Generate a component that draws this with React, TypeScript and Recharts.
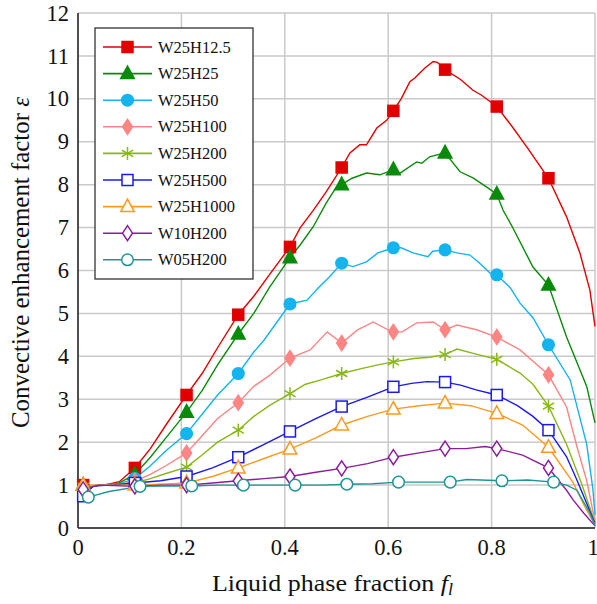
import React from 'react';
import { ComposedChart, Line, XAxis, YAxis, CartesianGrid } from 'recharts';

type Pt = [number, number];

const xTicks = [0, 0.2, 0.4, 0.6, 0.8, 1];
const yTicks = [0, 1, 2, 3, 4, 5, 6, 7, 8, 9, 10, 11, 12];

const seriesNames = ['W25H12.5', 'W25H25', 'W25H50', 'W25H100', 'W25H200', 'W25H500', 'W25H1000', 'W10H200', 'W05H200'];

const markerX = [0.01, 0.11, 0.21, 0.31, 0.41, 0.51, 0.61, 0.71, 0.81, 0.91];
const markerXTeal = [0.02, 0.12, 0.22, 0.32, 0.42, 0.52, 0.62, 0.72, 0.82, 0.92];

const markRed = [1.0, 1.4, 3.1, 4.97, 6.55, 8.4, 9.72, 10.68, 9.82, 8.15];
const markGreen = [1.0, 1.25, 2.7, 4.52, 6.3, 8.0, 8.35, 8.74, 7.78, 5.66];
const markCyan = [0.92, 1.15, 2.2, 3.6, 5.22, 6.17, 6.53, 6.48, 5.9, 4.27];
const markPink = [0.97, 1.1, 1.75, 2.92, 3.96, 4.31, 4.57, 4.62, 4.45, 3.57];
const markYGreen = [0.97, 1.05, 1.42, 2.28, 3.13, 3.6, 3.87, 4.04, 3.93, 2.84];
const markBlue = [0.74, 1.05, 1.2, 1.65, 2.25, 2.83, 3.29, 3.4, 3.1, 2.28];
const markOrange = [1.0, 1.0, 1.05, 1.4, 1.84, 2.4, 2.77, 2.91, 2.67, 1.88];
const markPurple = [0.9, 0.97, 1.0, 1.1, 1.2, 1.39, 1.65, 1.85, 1.85, 1.4];
const markTeal = [0.72, 0.97, 0.98, 1.0, 1.0, 1.02, 1.07, 1.07, 1.1, 1.07];

const curveRed: Pt[] = [[0, 0.95], [0.01, 0.97], [0.05, 1.0], [0.08, 1.08], [0.11, 1.4], [0.14, 1.85], [0.17, 2.4], [0.21, 3.1], [0.24, 3.6], [0.27, 4.2], [0.31, 4.97], [0.34, 5.4], [0.37, 5.9], [0.41, 6.55], [0.43, 7.0], [0.455, 7.4], [0.48, 7.83], [0.51, 8.4], [0.526, 8.74], [0.545, 8.93], [0.558, 8.93], [0.578, 9.32], [0.597, 9.5], [0.61, 9.72], [0.625, 10.0], [0.642, 10.4], [0.652, 10.49], [0.671, 10.72], [0.687, 10.87], [0.695, 10.85], [0.71, 10.68], [0.74, 10.45], [0.764, 10.2], [0.78, 10.09], [0.81, 9.82], [0.84, 9.35], [0.868, 8.88], [0.91, 8.15], [0.945, 7.25], [0.971, 6.4], [0.99, 5.55], [1.0, 4.7]];
const curveGreen: Pt[] = [[0, 0.95], [0.01, 0.98], [0.05, 1.0], [0.08, 1.05], [0.11, 1.25], [0.14, 1.65], [0.17, 2.1], [0.21, 2.7], [0.24, 3.2], [0.27, 3.8], [0.31, 4.52], [0.34, 5.0], [0.37, 5.6], [0.41, 6.3], [0.43, 6.6], [0.455, 7.02], [0.48, 7.57], [0.5, 7.95], [0.51, 8.0], [0.53, 8.15], [0.558, 8.27], [0.584, 8.23], [0.61, 8.35], [0.623, 8.27], [0.655, 8.53], [0.665, 8.5], [0.68, 8.65], [0.71, 8.74], [0.739, 8.3], [0.764, 8.16], [0.79, 7.95], [0.81, 7.78], [0.822, 7.41], [0.84, 7.02], [0.88, 6.08], [0.91, 5.66], [0.945, 4.45], [0.984, 3.3], [1.0, 2.45]];
const curveCyan: Pt[] = [[0, 0.9], [0.01, 0.92], [0.04, 1.0], [0.08, 1.03], [0.11, 1.15], [0.14, 1.45], [0.17, 1.8], [0.21, 2.2], [0.24, 2.65], [0.27, 3.1], [0.31, 3.6], [0.34, 4.1], [0.36, 4.38], [0.41, 5.22], [0.443, 5.31], [0.465, 5.6], [0.487, 5.86], [0.51, 6.17], [0.532, 6.09], [0.558, 6.2], [0.58, 6.41], [0.61, 6.53], [0.625, 6.53], [0.648, 6.41], [0.677, 6.32], [0.686, 6.45], [0.71, 6.48], [0.733, 6.41], [0.758, 6.36], [0.777, 6.17], [0.797, 5.94], [0.81, 5.9], [0.836, 5.6], [0.855, 5.24], [0.88, 4.9], [0.91, 4.27], [0.952, 3.45], [0.984, 1.95], [0.996, 0.9], [1.0, 0.3]];
const curvePink: Pt[] = [[0, 0.95], [0.01, 0.97], [0.05, 1.0], [0.08, 1.0], [0.11, 1.1], [0.14, 1.25], [0.17, 1.45], [0.21, 1.75], [0.24, 2.15], [0.27, 2.55], [0.31, 2.92], [0.34, 3.3], [0.37, 3.55], [0.41, 3.96], [0.449, 4.15], [0.482, 4.57], [0.51, 4.31], [0.54, 4.61], [0.571, 4.8], [0.607, 4.57], [0.627, 4.57], [0.655, 4.78], [0.687, 4.8], [0.71, 4.62], [0.733, 4.73], [0.771, 4.62], [0.81, 4.45], [0.855, 4.15], [0.91, 3.57], [0.945, 2.82], [0.965, 1.9], [0.984, 1.1], [1.0, 0.15]];
const curveYGreen: Pt[] = [[0, 0.95], [0.01, 0.97], [0.05, 1.0], [0.08, 1.0], [0.11, 1.05], [0.14, 1.15], [0.17, 1.27], [0.21, 1.42], [0.24, 1.7], [0.27, 2.0], [0.31, 2.28], [0.34, 2.6], [0.37, 2.85], [0.41, 3.13], [0.44, 3.35], [0.47, 3.45], [0.51, 3.6], [0.55, 3.72], [0.58, 3.8], [0.61, 3.87], [0.65, 3.95], [0.68, 3.98], [0.71, 4.04], [0.733, 4.17], [0.77, 4.05], [0.81, 3.93], [0.855, 3.61], [0.88, 3.35], [0.91, 2.84], [0.945, 1.95], [0.975, 1.0], [1.0, 0.12]];
const curveBlue: Pt[] = [[0, 0.8], [0.01, 0.74], [0.03, 0.98], [0.06, 1.0], [0.11, 1.05], [0.16, 1.1], [0.21, 1.2], [0.26, 1.4], [0.31, 1.65], [0.36, 1.95], [0.41, 2.25], [0.46, 2.55], [0.51, 2.83], [0.56, 3.05], [0.61, 3.29], [0.645, 3.37], [0.675, 3.41], [0.71, 3.4], [0.74, 3.33], [0.77, 3.22], [0.81, 3.1], [0.85, 2.85], [0.88, 2.6], [0.91, 2.28], [0.945, 1.66], [0.965, 1.12], [0.984, 0.57], [1.0, 0.1]];
const curveOrange: Pt[] = [[0, 0.95], [0.01, 1.0], [0.05, 1.0], [0.11, 1.0], [0.16, 1.02], [0.21, 1.05], [0.26, 1.2], [0.31, 1.4], [0.36, 1.62], [0.41, 1.84], [0.46, 2.1], [0.51, 2.4], [0.56, 2.6], [0.61, 2.77], [0.66, 2.85], [0.71, 2.91], [0.76, 2.85], [0.81, 2.67], [0.86, 2.4], [0.91, 1.88], [0.958, 1.05], [0.98, 0.5], [1.0, 0.08]];
const curvePurple: Pt[] = [[0, 0.9], [0.01, 0.9], [0.04, 1.0], [0.11, 0.97], [0.16, 1.0], [0.21, 1.0], [0.26, 1.05], [0.31, 1.1], [0.36, 1.15], [0.41, 1.2], [0.46, 1.3], [0.51, 1.39], [0.56, 1.5], [0.61, 1.65], [0.66, 1.75], [0.71, 1.85], [0.75, 1.85], [0.788, 1.9], [0.81, 1.85], [0.86, 1.7], [0.91, 1.4], [0.945, 0.88], [0.958, 0.65], [0.978, 0.35], [1.0, 0.05]];
const curveTeal: Pt[] = [[0, 0.78], [0.02, 0.72], [0.06, 0.85], [0.12, 0.97], [0.17, 0.98], [0.22, 0.98], [0.27, 1.0], [0.32, 1.0], [0.37, 1.0], [0.42, 1.0], [0.47, 1.0], [0.52, 1.02], [0.57, 1.03], [0.62, 1.07], [0.67, 1.07], [0.72, 1.07], [0.752, 1.13], [0.82, 1.1], [0.87, 1.12], [0.92, 1.07], [0.945, 1.0], [0.965, 0.88], [0.99, 0.35], [1.0, 0.05]];

type Shape = 'square' | 'triangle' | 'circle' | 'diamond' | 'star';

const config: { color: string; shape: Shape; filled: boolean; curve: Pt[]; mx: number[]; my: number[] }[] = [
  { color: '#e00000', shape: 'square', filled: true, curve: curveRed, mx: markerX, my: markRed },
  { color: '#0a8a0a', shape: 'triangle', filled: true, curve: curveGreen, mx: markerX, my: markGreen },
  { color: '#14b4ee', shape: 'circle', filled: true, curve: curveCyan, mx: markerX, my: markCyan },
  { color: '#ff8585', shape: 'diamond', filled: true, curve: curvePink, mx: markerX, my: markPink },
  { color: '#88b814', shape: 'star', filled: true, curve: curveYGreen, mx: markerX, my: markYGreen },
  { color: '#1a1aee', shape: 'square', filled: false, curve: curveBlue, mx: markerX, my: markBlue },
  { color: '#ff9a1e', shape: 'triangle', filled: false, curve: curveOrange, mx: markerX, my: markOrange },
  { color: '#8a1e9a', shape: 'diamond', filled: false, curve: curvePurple, mx: markerX, my: markPurple },
  { color: '#1f9595', shape: 'circle', filled: false, curve: curveTeal, mx: markerXTeal, my: markTeal },
];

const SERIF = 'Liberation Serif';

function Marker({ cx, cy, shape, color, filled }: { cx: number; cy: number; shape: Shape; color: string; filled: boolean }) {
  const fill = filled ? color : 'white';
  const sw = 1.5;
  if (shape === 'square') return <rect x={cx - 5.5} y={cy - 5.5} width={11} height={11} fill={fill} stroke={color} strokeWidth={sw} />;
  if (shape === 'triangle') return <polygon points={`${cx},${cy - 7.5} ${cx - 6.8},${cy + 5} ${cx + 6.8},${cy + 5}`} fill={fill} stroke={color} strokeWidth={sw} />;
  if (shape === 'circle') return <circle cx={cx} cy={cy} r={5.8} fill={fill} stroke={color} strokeWidth={sw} />;
  if (shape === 'diamond') return <polygon points={`${cx},${cy - 7.5} ${cx + 5},${cy} ${cx},${cy + 7.5} ${cx - 5},${cy}`} fill={fill} stroke={color} strokeWidth={sw} />;
  const r = 6.5;
  const a = (Math.PI / 180) * 30;
  return (
    <g stroke={color} strokeWidth={1.5}>
      <line x1={cx} y1={cy - r} x2={cx} y2={cy + r} />
      <line x1={cx - r * Math.cos(a)} y1={cy - r * Math.sin(a)} x2={cx + r * Math.cos(a)} y2={cy + r * Math.sin(a)} />
      <line x1={cx - r * Math.cos(a)} y1={cy + r * Math.sin(a)} x2={cx + r * Math.cos(a)} y2={cy - r * Math.sin(a)} />
    </g>
  );
}

const fmtX = (v: number) => (v === 0 || v === 1 ? String(v) : v.toFixed(1));

const XTick = (p: any) => (
  <text x={p.x} y={p.y + 27} textAnchor="middle" style={{ fontFamily: SERIF, fontSize: 22.5 }} fill="#111">{fmtX(p.payload.value)}</text>
);
const YTick = (p: any) => (
  <text x={p.x - 9} y={p.y} dy="0.34em" textAnchor="end" style={{ fontFamily: SERIF, fontSize: 22.5 }} fill="#111">{p.payload.value}</text>
);

const axisStroke = { stroke: '#222', strokeWidth: 1.5 };

export default function App() {
  const W = 597;
  const H = 604;
  return (
    <div style={{ position: 'fixed', left: 0, top: 0, width: W, height: H, overflow: 'hidden', background: 'white' }}>
      <ComposedChart width={W} height={H} margin={{ top: 13, right: 2, bottom: 36, left: 18 }}>
        <CartesianGrid stroke="#c9c9c9" strokeWidth={1.5} horizontalValues={yTicks} verticalValues={xTicks} />
        <XAxis dataKey="x" type="number" domain={[0, 1]} ticks={xTicks} height={40} axisLine={axisStroke} tickLine={false} tickSize={0} tickMargin={0} tick={<XTick />} />
        <XAxis xAxisId="top" orientation="top" type="number" domain={[0, 1]} height={0} axisLine={axisStroke} tickLine={false} tick={false} />
        <YAxis type="number" domain={[0, 12]} ticks={yTicks} width={60} axisLine={axisStroke} tickLine={false} tickSize={0} tickMargin={0} tick={<YTick />} />
        <YAxis yAxisId="right" orientation="right" type="number" domain={[0, 12]} width={0} axisLine={axisStroke} tickLine={false} tick={false} />
        {config.map((s, i) => (
          <Line key={'c' + i} data={s.curve.map(([x, y]) => ({ x, y }))} dataKey="y" type="linear" stroke={s.color} strokeWidth={1.4} dot={false} activeDot={false} isAnimationActive={false} />
        ))}
        {config.map((s, i) => (
          <Line key={'m' + i} data={s.mx.map((x, j) => ({ x, y: s.my[j] }))} dataKey="y" stroke="none" strokeWidth={0} activeDot={false} isAnimationActive={false}
            dot={(p: any) => <Marker key={`d${i}-${p.index}`} cx={p.cx} cy={p.cy} shape={s.shape} color={s.color} filled={s.filled} />} />
        ))}
      </ComposedChart>
      <svg width={W} height={H} style={{ position: 'absolute', left: 0, top: 0, pointerEvents: 'none' }}>
        <text x={212} y={591} textLength={241} lengthAdjust="spacingAndGlyphs" style={{ fontFamily: SERIF, fontSize: 23 }} fill="#111">
          Liquid phase fraction <tspan fontStyle="italic">f</tspan><tspan fontStyle="italic" fontSize={16} dy={4}>l</tspan>
        </text>
        <text x={29} y={428} textLength={331} lengthAdjust="spacingAndGlyphs" transform="rotate(-90, 29, 428)" style={{ fontFamily: SERIF, fontSize: 24.5 }} fill="#111">
          Convective enhancement factor <tspan fontStyle="italic">ε</tspan>
        </text>
        <rect x={95} y={28} width={158} height={251} fill="white" stroke="#333" strokeWidth={1.3} />
        {config.map((s, i) => {
          const cy = 47 + i * 26.6;
          return (
            <g key={'l' + i}>
              <line x1={103} y1={cy} x2={152} y2={cy} stroke={s.color} strokeWidth={1.6} />
              <Marker cx={127.5} cy={cy} shape={s.shape} color={s.color} filled={s.filled} />
              <text x={158} y={cy} dy="0.34em" style={{ fontFamily: SERIF, fontSize: 16.5 }} fill="#111">{seriesNames[i]}</text>
            </g>
          );
        })}
      </svg>
    </div>
  );
}
